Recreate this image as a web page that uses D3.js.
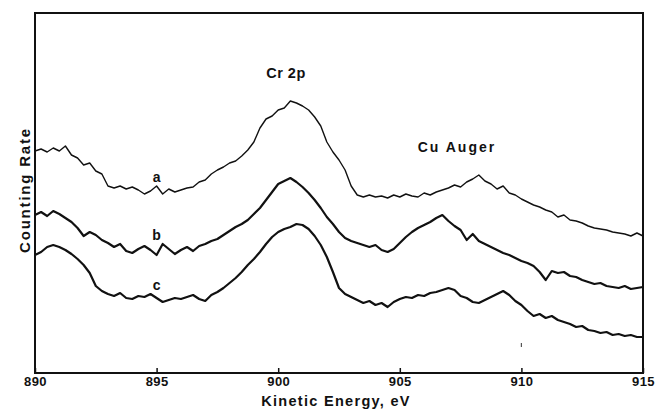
<!DOCTYPE html>
<html>
<head>
<meta charset="utf-8">
<script src="https://cdn.jsdelivr.net/npm/d3@7"></script>
<style>
  body { margin: 0; background: #fff; }
  svg { display: block; }
  text { font-family: "Liberation Sans", Arial, sans-serif; fill: #111; font-weight: bold; }
</style>
</head>
<body>
<div id="chart"></div>
<script>
// energies sampled every 0.25 eV, 890 .. 915
var energies = d3.range(890, 915.001, 0.25);

// counting rate (arbitrary units)
var spectrumA = [
  222,224,221,225, 222,227,218,215, 208,210,202,199, 187,185,187,184,
  186,183,179,182, 187,179,184,181, 183,185,186,191, 193,199,203,206,
  210,212,217,223, 231,245,254,257, 263,265,272,270, 267,263,256,247,
  231,221,213,203, 187,178,176,178, 176,177,175,178, 176,179,177,176,
  180,178,181,183, 185,188,186,191, 194,198,192,189, 184,187,180,178,
  174,171,168,166, 163,161,156,158, 153,152,150,147, 145,144,143,141,
  140,139,137,140, 137
];
var spectrumB = [
  158,161,157,162, 159,155,151,145, 137,141,138,133, 130,126,129,122,
  120,124,127,123, 118,129,124,119, 123,126,122,127, 129,132,134,138,
  142,146,149,153, 159,165,173,181, 189,192,195,191, 186,180,173,165,
  156,149,141,135, 132,130,128,126, 128,123,121,124, 130,136,141,145,
  148,151,155,158, 152,147,143,133, 139,132,129,126, 123,120,118,115,
  112,110,107,101, 93,102,100,101, 97,96,93,91, 89,90,87,86,
  85,87,84,85, 86
];
var spectrumC = [
  118,121,126,128, 126,123,119,114, 108,100,87,82, 79,77,80,75,
  74,77,76,79, 75,71,73,75, 74,76,78,74, 72,78,81,85,
  90,95,101,108, 114,121,129,136, 141,144,146,149, 148,144,137,128,
  116,101,85,79, 76,73,70,72, 68,70,66,71, 74,76,75,78,
  77,80,81,83, 85,83,77,75, 71,70,73,76, 79,82,78,72,
  68,62,57,59, 55,57,53,51, 49,46,47,43, 42,40,41,38,
  39,37,38,36, 36
];

var seriesNames = ["a", "b", "c"];
var xTicks = [890, 895, 900, 905, 910, 915];

var W = 657, H = 412;
var margin = {top: 13, right: 14, bottom: 39, left: 35};
var innerW = W - margin.left - margin.right,
    innerH = H - margin.top - margin.bottom;

var svg = d3.select("#chart").append("svg")
    .attr("width", W).attr("height", H);
var g = svg.append("g")
    .attr("transform", "translate(" + margin.left + "," + margin.top + ")");

var x = d3.scaleLinear().domain([890, 915]).range([0, innerW]);
var y = d3.scaleLinear().domain([0, 360]).range([innerH, 0]);

// axis with inward ticks
var xAxis = d3.axisBottom(x).tickValues(xTicks).tickSizeInner(-5).tickSizeOuter(0)
    .tickPadding(4).tickFormat(d3.format("d"));
var ax = g.append("g").attr("transform", "translate(0," + innerH + ")").call(xAxis);
ax.select(".domain").remove();
ax.selectAll("line").attr("stroke", "#111").attr("stroke-width", 1.5);
ax.selectAll("text").style("font-size", "13px").style("font-weight", "bold")
    .style("font-family", "'Liberation Sans', Arial, sans-serif").style("letter-spacing", "0.4px")
    .attr("fill", "#111");

// frame
g.append("rect").attr("x", 0).attr("y", 0).attr("width", innerW).attr("height", innerH)
    .attr("fill", "none").attr("stroke", "#111").attr("stroke-width", 2);

var line = d3.line()
    .x(function(d, i){ return x(energies[i]); })
    .y(function(d){ return y(d); });

var series = [
  {name: seriesNames[0], values: spectrumA, w: 1.4},
  {name: seriesNames[1], values: spectrumB, w: 2.2},
  {name: seriesNames[2], values: spectrumC, w: 2.2}
];

g.selectAll("path.spec").data(series).enter()
  .append("path").attr("class", "spec")
  .attr("d", function(d){ return line(d.values); })
  .attr("fill", "none").attr("stroke", "#111")
  .attr("stroke-width", function(d){ return d.w; })
  .attr("stroke-linejoin", "round");

// curve letters, just above the local top of each trace near 895 eV
var labelE = 895.0;
var li = energies.indexOf(labelE);
g.selectAll("text.lbl").data(series).enter()
  .append("text").attr("class", "lbl")
  .attr("x", x(labelE))
  .attr("y", function(d){ return y(d3.max(d.values.slice(li - 1, li + 2))) - 4; })
  .attr("text-anchor", "middle")
  .style("font-size", "14px")
  .text(function(d){ return d.name; });

// peak annotations
g.append("text").attr("x", x(900.32)).attr("y", 65)
  .attr("text-anchor", "middle").style("font-size", "14.5px").style("letter-spacing", "0.5px")
  .text("Cr 2p");
g.append("text").attr("x", x(907.35)).attr("y", 139)
  .attr("text-anchor", "middle").style("font-size", "14px").style("letter-spacing", "2px")
  .text("Cu  Auger");

// small stray mark near 910 eV
g.append("line").attr("x1", x(910)).attr("x2", x(910))
  .attr("y1", y(30)).attr("y2", y(26)).attr("stroke", "#555").attr("stroke-width", 1.2);

// axis titles
svg.append("text").attr("x", 336).attr("y", 406)
  .attr("text-anchor", "middle").style("font-size", "14.5px").style("letter-spacing", "1.3px")
  .text("Kinetic Energy, eV");
svg.append("text")
  .attr("transform", "translate(30,190) rotate(-90)")
  .attr("text-anchor", "middle").style("font-size", "15px").style("letter-spacing", "1.8px")
  .text("Counting Rate");
</script>
</body>
</html>
